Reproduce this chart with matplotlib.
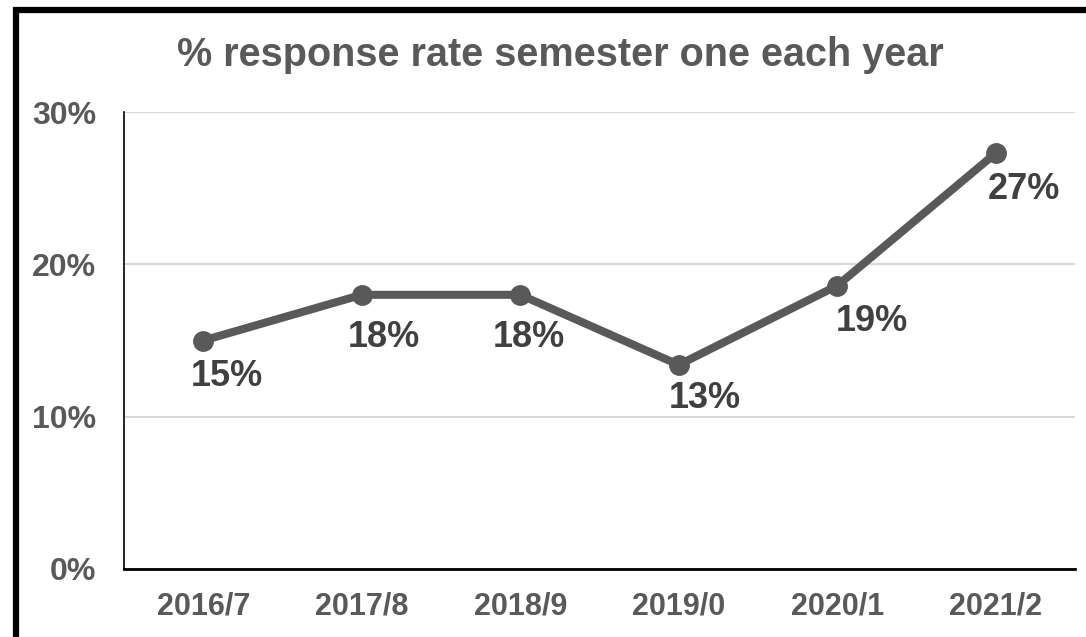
import matplotlib
matplotlib.use('Agg')
import matplotlib.pyplot as plt
from matplotlib.patches import Rectangle
from matplotlib.ticker import FuncFormatter

# -------------------------[Data]-------------------------
years = ['2016/7', '2017/8', '2018/9', '2019/0', '2020/1', '2021/2']
response_rate = [15.0, 18.0, 18.0, 13.4, 18.6, 27.3]
rate_labels = ['15%', '18%', '18%', '13%', '19%', '27%']
y_ticks = [0, 10, 20, 30]
# label offsets from each point (points)
label_dx = [17, 16, 6, 19, 25, 20]
label_dy = [-26, -31, -31, -24, -26, -26]
# --------------------------------------------------------

plt.rcParams['font.family'] = ['Liberation Sans', 'DejaVu Sans']
plt.rcParams['font.weight'] = 'bold'

line_c = '#595959'
text_c = '#595959'
label_c = '#404040'

fig = plt.figure(figsize=(10.86, 6.37), dpi=100)
ax = fig.add_axes([124 / 1086, 1 - 569 / 637, (1075 - 124) / 1086, (569 - 112) / 637])

x = list(range(len(years)))
ax.plot(x, response_rate, color=line_c, linewidth=5.8, marker='o', markersize=14,
        solid_capstyle='round', zorder=3)

for i, (v, lab) in enumerate(zip(response_rate, rate_labels)):
    ax.annotate(lab, (i, v), xytext=(label_dx[i], label_dy[i]), textcoords='offset points',
                ha='center', va='center', fontsize=26, fontweight='bold', color=label_c)

ax.set_xlim(-0.5, len(years) - 0.5)
ax.set_ylim(0, 30)
ax.set_xticks(x)
ax.set_xticklabels(years)
ax.set_yticks(y_ticks)
ax.yaxis.set_major_formatter(FuncFormatter(lambda v, p: '{:.0f}%'.format(v)))
ax.grid(axis='y', color='#d9d9d9', linewidth=1.5, zorder=0)
ax.set_axisbelow(True)

for s in ['top', 'right']:
    ax.spines[s].set_visible(False)
ax.spines['left'].set_color('black')
ax.spines['left'].set_linewidth(1.2)
ax.spines['bottom'].set_color('black')
ax.spines['bottom'].set_linewidth(2)

ax.tick_params(axis='x', length=0, pad=16, labelsize=22, labelcolor=text_c)
ax.tick_params(axis='y', length=0, pad=20, labelsize=23, labelcolor=text_c)

fig.text(560 / 1086, 1 - 55 / 637, '% response rate semester one each year', ha='center', va='center',
         fontsize=28.5, fontweight='bold', color=text_c)

# outer frame (cropped on right and bottom)
fig.patches.append(Rectangle((15.5 / 1086, -0.1), 1.2, 1 - 10 / 637 + 0.1, transform=fig.transFigure,
                             fill=False, edgecolor='black', linewidth=4.5))

fig.savefig('out.png', dpi=100)
